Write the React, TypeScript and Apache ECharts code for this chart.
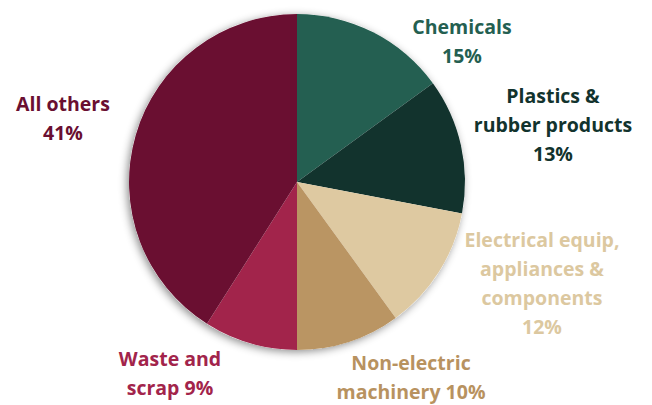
import React, { useEffect, useRef } from "react";
import * as echarts from "echarts";

const categories = [
  "Chemicals",
  "Plastics &\nrubber products",
  "Electrical equip,\nappliances &\ncomponents",
  "Non-electric\nmachinery",
  "Waste and\nscrap",
  "All others",
];
const values = [15, 13, 12, 10, 9, 41];
const valueSeparators = ["\n", "\n", "\n", " ", " ", "\n"];
const colors = ["#245F51", "#12332D", "#DEC9A1", "#BA9563", "#A2244B", "#6A0F31"];
const labelColors = ["#245F51", "#12332D", "#DCC8A0", "#B8925F", "#A2244B", "#6A0F31"];
const labelPos: [number, number][] = [
  [462, 41],
  [553, 124],
  [542, 283],
  [411, 377],
  [170, 373],
  [63, 118],
];

export default function App() {
  const ref = useRef<HTMLDivElement>(null);
  useEffect(() => {
    if (!ref.current) return;
    const chart = echarts.init(ref.current, null, { renderer: "svg" });
    chart.setOption({
      animation: false,
      backgroundColor: "#ffffff",
      series: [
        {
          type: "pie",
          silent: true,
          center: [297, 182],
          radius: 168,
          startAngle: 90,
          label: { show: false },
          labelLine: { show: false },
          data: [
            {
              value: 1,
              itemStyle: {
                color: "#ffffff",
                shadowColor: "rgba(0,0,0,0.45)",
                shadowBlur: 9,
                shadowOffsetX: -2,
                shadowOffsetY: 2,
              },
            },
          ],
        },
        {
          type: "pie",
          center: [297, 182],
          radius: 168,
          startAngle: 90,
          clockwise: true,
          avoidLabelOverlap: false,
          itemStyle: { borderWidth: 0 },
          labelLine: { show: false },
          label: {
            show: true,
            position: "outside",
            fontFamily: "'Open Sans', sans-serif",
            fontWeight: "bold",
            fontSize: 19.5,
            lineHeight: 29,
            align: "center",
            formatter: (p: any) =>
              `${categories[p.dataIndex]}${valueSeparators[p.dataIndex]}${values[p.dataIndex]}%`,
          },
          labelLayout: (p: any) => ({
            x: labelPos[p.dataIndex][0],
            y: labelPos[p.dataIndex][1],
            align: "center",
            verticalAlign: "middle",
          }),
          data: categories.map((c, i) => ({
            name: c,
            value: values[i],
            itemStyle: { color: colors[i] },
            label: { color: labelColors[i] },
          })),
        },
      ],
    });
    return () => chart.dispose();
  }, []);
  return (
    <div
      ref={ref}
      style={{ position: "absolute", left: 0, top: 0, width: 652, height: 405 }}
    />
  );
}
